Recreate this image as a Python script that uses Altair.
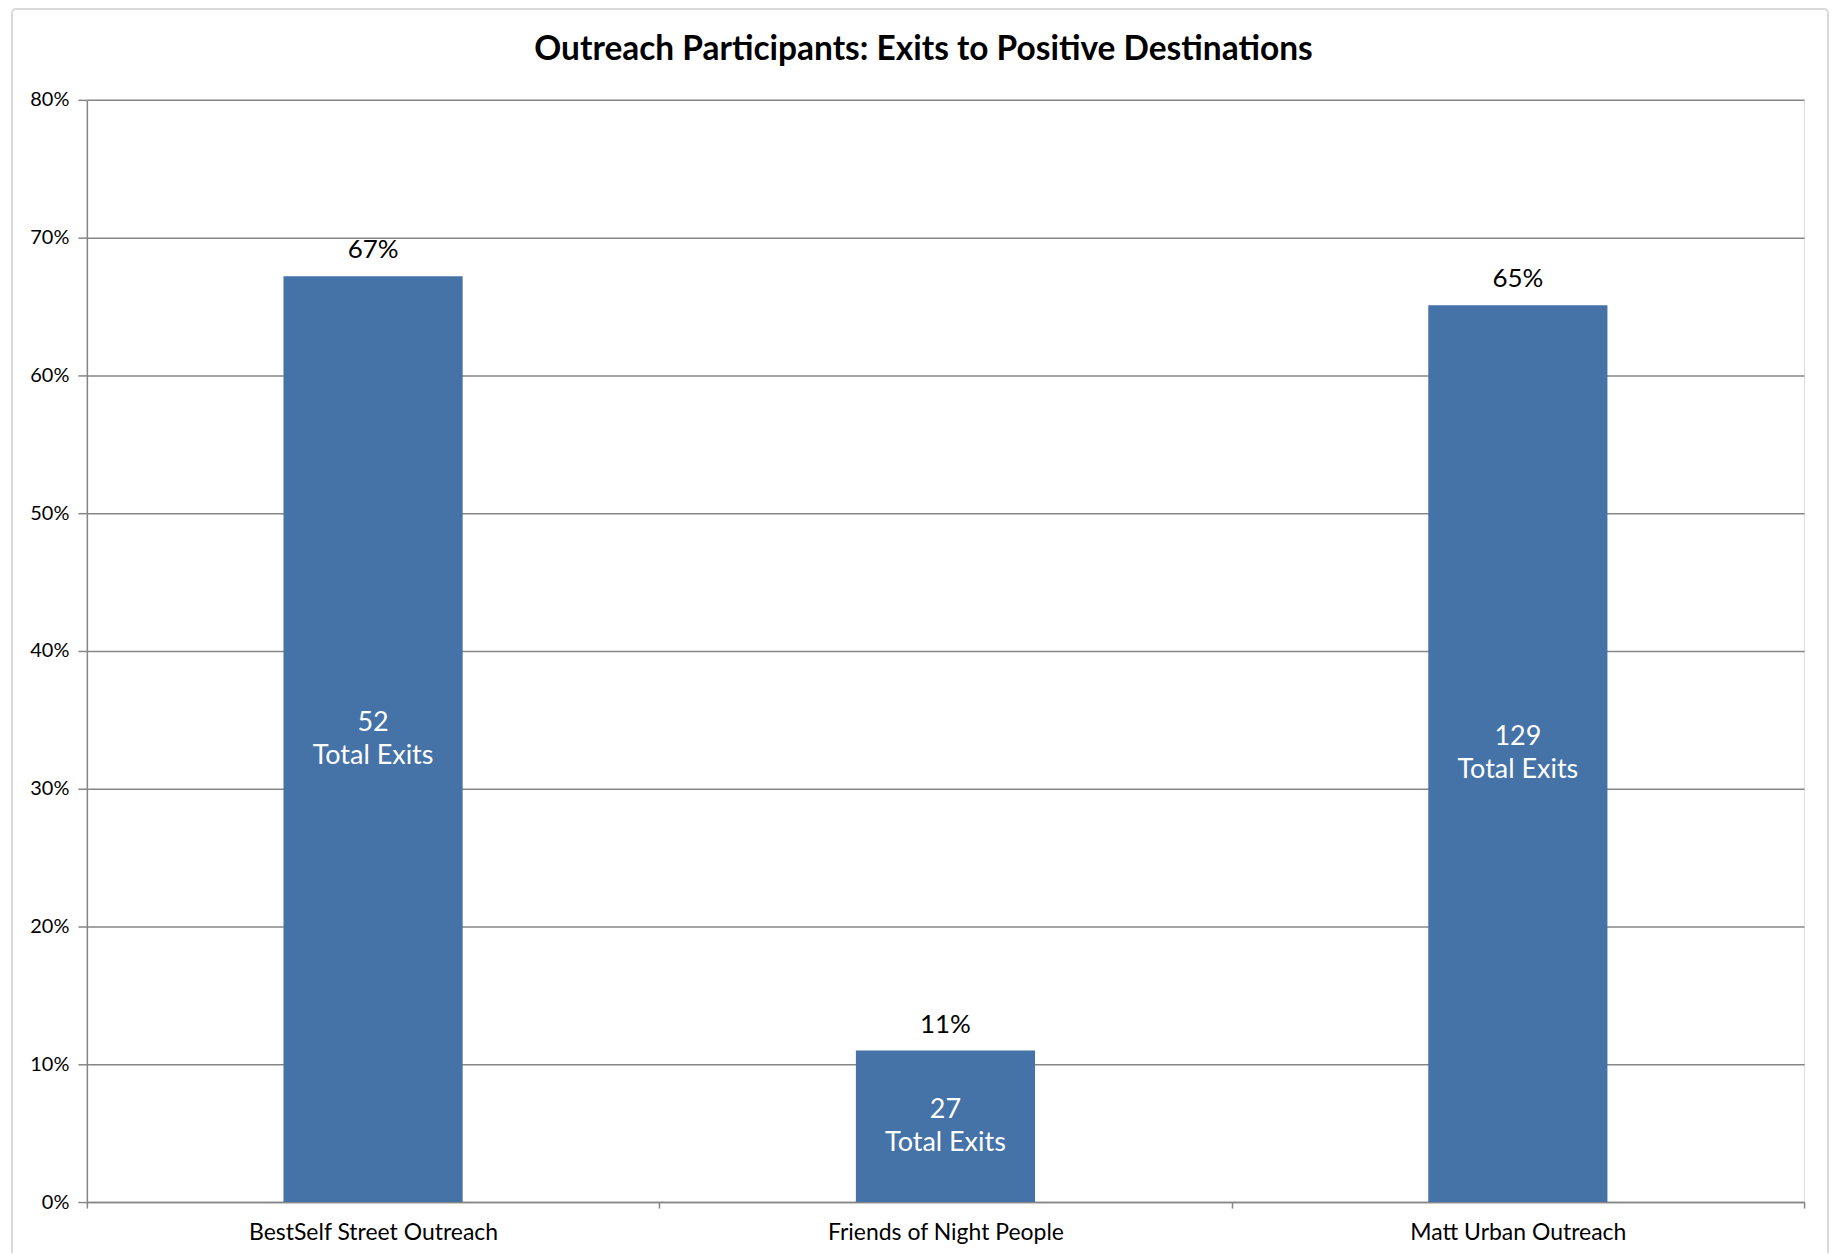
import altair as alt
import pandas as pd

categories = ["BestSelf Street Outreach", "Friends of Night People", "Matt Urban Outreach"]
rates = [0.672, 0.110, 0.651]
rate_labels = ["67%", "11%", "65%"]
exits = [52, 27, 129]

df = pd.DataFrame({
    "category": categories,
    "rate": rates,
    "rate_label": rate_labels,
    "inner": [f"{e}\nTotal Exits" for e in exits],
})

W, H = 1720, 1104
FONT = "Lato"
BLUE = "#4572A7"
GRID = "#868686"

x = alt.X("category:N", sort=categories, title=None,
          scale=alt.Scale(paddingInner=0, paddingOuter=0),
          axis=alt.Axis(tickBand="extent", labelAngle=0, labelFontSize=23, labelFont=FONT,
                        labelColor="#000000", labelPadding=14, labelLimit=500, tickSize=6,
                        tickColor=GRID, domainColor=GRID, domainWidth=1.5, tickWidth=1.5))
y = alt.Y("rate:Q", title=None,
          scale=alt.Scale(domain=[0, 0.8], nice=False),
          axis=alt.Axis(format=".0%", values=[0, 0.1, 0.2, 0.3, 0.4, 0.5, 0.6, 0.7, 0.8],
                        labelFontSize=20, labelFont=FONT, labelColor="#000000",
                        tickSize=9, tickColor=GRID, tickWidth=1.5, labelPadding=9,
                        domainColor=GRID, domainWidth=1.5,
                        grid=True, gridColor=GRID, gridWidth=1.5))

frame = alt.Chart(pd.DataFrame({"a": [0]})).mark_rect(
    fill=None, stroke="#d9d9d9", strokeWidth=2, cornerRadius=4, clip=False
).encode(x=alt.value(-75), x2=alt.value(W + 24), y=alt.value(-91), y2=alt.value(H + 80))

base = alt.Chart(df)

bars = base.mark_bar(color=BLUE, width=alt.RelativeBandSize(0.313)).encode(x=x, y=y)

top_text = base.mark_text(font=FONT, fontSize=26, color="#000000", baseline="middle", dy=-26).encode(
    x=alt.X("category:N", sort=categories), y="rate:Q", text="rate_label:N")

inner_text = base.transform_calculate(mid="datum.rate / 2").mark_text(
    font=FONT, fontSize=27, color="#ffffff", baseline="middle", lineBreak="\n", lineHeight=33,
    dy=-16.5
).encode(x=alt.X("category:N", sort=categories), y=alt.Y("mid:Q"), text="inner:N")

chart = alt.layer(frame, bars, top_text, inner_text).properties(
    width=W, height=H,
    title=alt.TitleParams("Outreach Participants: Exits to Positive Destinations",
                          font=FONT, fontSize=33.5, fontWeight="bold", color="#000000",
                          anchor="middle", frame="group", baseline="alphabetic",
                          dx=-22, offset=0, dy=86),
    autosize=alt.AutoSizeParams(type="none"),
    padding={"left": 79, "top": 91, "right": 33, "bottom": 50},
).configure_view(stroke=GRID, strokeWidth=1.5).configure(background="#ffffff")

chart.save("out.html", embed_options={"renderer": "svg", "actions": False})
